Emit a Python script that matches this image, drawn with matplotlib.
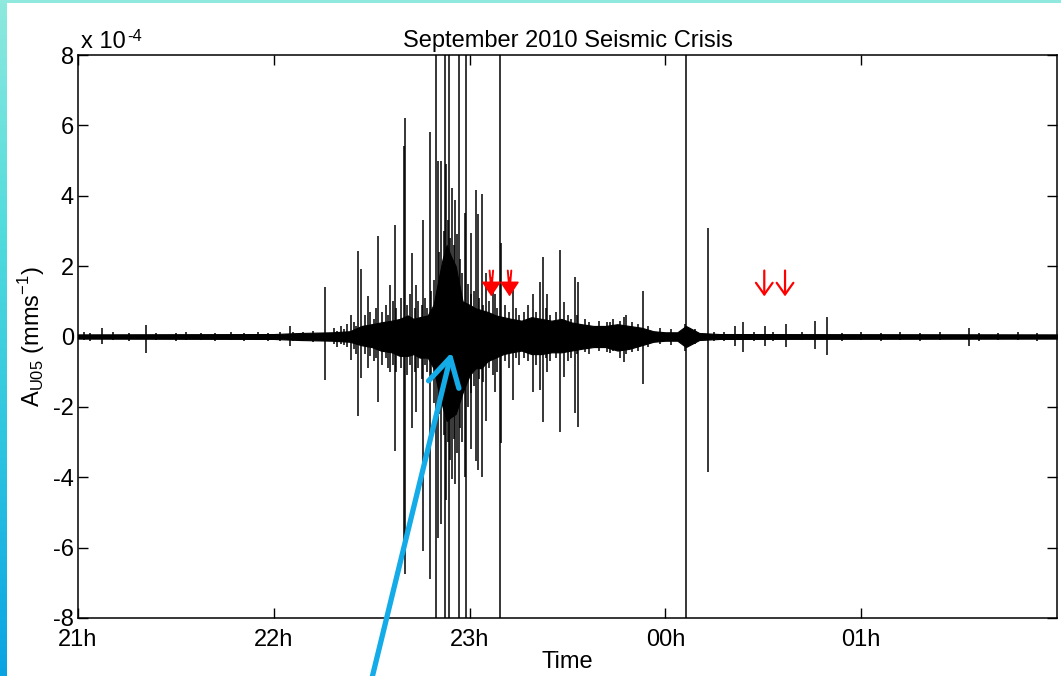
import numpy as np
import matplotlib
matplotlib.use('Agg')
import matplotlib.pyplot as plt
from matplotlib.colors import LinearSegmentedColormap

plt.rcParams['font.family'] = ['Liberation Sans', 'DejaVu Sans']
plt.rcParams['mathtext.fontset'] = 'custom'
plt.rcParams['mathtext.rm'] = 'Liberation Sans'
plt.rcParams['axes.unicode_minus'] = False

# time axis in hours after midnight of the first day (24 = 00h)
tick_pos = [21, 22, 23, 24, 25]
tick_labels = ['21h', '22h', '23h', '00h', '01h']
ytick_pos = [-8, -6, -4, -2, 0, 2, 4, 6, 8]

# background noise envelope (x 1e-4)
env_t = [21.0, 22.0, 22.133, 22.301, 22.388, 22.449, 22.5, 22.546, 22.602,
         22.643, 22.684, 22.714, 22.745, 22.786, 22.816, 22.837, 22.862, 22.883,
         22.903, 22.929, 22.964, 23.0, 23.031, 23.061, 23.092, 23.133, 23.173,
         23.214, 23.265, 23.316, 23.367, 23.418, 23.469, 23.52, 23.571, 23.633,
         23.694, 23.755, 23.816, 23.878, 23.939, 24.0, 24.061, 24.105, 24.173,
         24.276, 26.0]
env_hi = [0.06, 0.07, 0.1, 0.12, 0.15, 0.3, 0.35, 0.4, 0.45,
          0.5, 0.6, 0.5, 0.55, 0.6, 0.9, 1.5, 2.2, 2.6,
          2.3, 2.0, 1.0, 0.9, 0.8, 0.75, 0.7, 0.6, 0.55,
          0.5, 0.45, 0.55, 0.5, 0.45, 0.5, 0.4, 0.35, 0.3,
          0.3, 0.35, 0.3, 0.25, 0.15, 0.12, 0.12, 0.3, 0.1,
          0.07, 0.06]
env_lo = [-0.06, -0.07, -0.1, -0.12, -0.15, -0.25, -0.3, -0.4, -0.45,
          -0.55, -0.55, -0.5, -0.6, -0.6, -0.9, -1.45, -2.0, -2.4,
          -2.3, -2.2, -1.6, -1.1, -0.9, -0.9, -0.7, -0.6, -0.5,
          -0.45, -0.4, -0.5, -0.5, -0.45, -0.45, -0.4, -0.35, -0.3,
          -0.3, -0.4, -0.35, -0.25, -0.15, -0.12, -0.12, -0.3, -0.1,
          -0.07, -0.06]

# individual events (peak / trough, x 1e-4)
spike_t = [21.121, 21.347, 22.082, 22.26, 22.396, 22.432, 22.447, 22.481, 22.531,
           22.592, 22.617, 22.663, 22.67, 22.704, 22.728, 22.762, 22.796, 22.838,
           22.855, 22.881, 22.912, 22.925, 22.974, 23.009, 23.031, 23.042, 23.063,
           23.085, 23.119, 23.128, 23.162, 23.221, 23.323, 23.36, 23.374, 23.396,
           23.464, 23.481, 23.539, 23.556, 23.719, 23.787, 23.884, 24.216, 24.355,
           24.398, 24.509, 24.616, 24.765, 24.823, 25.551]
spike_hi = [0.23, 0.34, 0.31, 1.42, 0.62, 2.44, 1.93, 1.16, 2.87,
            1.45, 3.17, 5.4, 6.22, 2.37, 1.45, 3.3, 5.82, 4.98,
            4.98, 4.9, 4.23, 3.87, 3.52, 2.95, 4.17, 3.47, 4.05,
            1.8, 1.33, 1.2, 2.66, 1.33, 1.21, 1.54, 2.27, 1.2,
            2.47, 0.97, 1.7, 1.56, 0.41, 0.55, 1.28, 3.07, 0.31,
            0.41, 0.31, 0.36, 0.45, 0.54, 0.25]
spike_lo = [-0.2, -0.48, -0.28, -1.25, -0.68, -2.25, -1.17, -0.9, -1.85,
            -1.0, -3.24, -6.28, -6.76, -2.6, -2.15, -6.1, -6.9, -5.74,
            -5.34, -4.65, -4.06, -4.18, -4.0, -3.2, -3.55, -3.78, -3.98,
            -2.4, -1.1, -1.57, -3.02, -1.8, -1.57, -1.53, -2.44, -1.0,
            -2.7, -1.16, -2.17, -2.56, -0.48, -0.73, -1.34, -3.84, -0.26,
            -0.45, -0.28, -0.3, -0.36, -0.52, -0.27]

# smaller wiggles of the trace
small_t = [21.03, 21.06, 21.18, 21.26, 21.4, 21.5, 21.55, 21.63, 21.7, 21.78,
           21.85, 21.92, 21.97, 22.03, 22.1, 22.15, 22.2,
           22.31, 22.325, 22.345, 22.36, 22.375, 22.41, 22.42, 22.465, 22.49,
           22.51, 22.52, 22.555, 22.575, 22.585, 22.61, 22.625, 22.65, 22.68,
           22.695, 22.72, 22.735, 22.755, 22.77, 22.78, 22.805, 22.82, 22.845,
           22.87, 22.89, 22.9, 22.918, 22.935, 22.95, 22.96, 22.99, 23.005,
           23.02, 23.05, 23.07, 23.1, 23.14, 23.18, 23.2, 23.235, 23.25,
           23.28, 23.3, 23.34, 23.39, 23.41, 23.44, 23.5, 23.52, 23.55,
           23.59, 23.61, 23.66, 23.7, 23.73, 23.77, 23.8, 23.83, 23.86,
           23.91, 23.97, 24.03, 24.1, 24.15,
           24.25, 24.3, 24.45, 24.55, 24.7, 24.9, 25.0, 25.1, 25.2, 25.3,
           25.4, 25.6, 25.7, 25.8, 25.9]
small_hi = [0.12, 0.1, 0.12, 0.1, 0.11, 0.1, 0.12, 0.1, 0.11, 0.12,
            0.1, 0.12, 0.11, 0.13, 0.12, 0.14, 0.15,
            0.25, 0.15, 0.3, 0.2, 0.35, 0.4, 0.3, 0.6, 0.7,
            0.5, 0.8, 0.7, 0.9, 0.6, 1.0, 0.8, 1.1, 0.9,
            1.2, 0.8, 1.0, 0.9, 1.1, 0.8, 1.3, 1.6, 2.4,
            3.0, 3.3, 2.8, 2.6, 2.9, 2.2, 1.8, 1.5, 1.2,
            1.3, 1.1, 0.9, 1.0, 0.8, 0.9, 0.7, 0.8, 0.6,
            0.7, 0.9, 0.7, 0.8, 0.6, 0.7, 0.6, 0.5, 0.6,
            0.5, 0.4, 0.45, 0.4, 0.5, 0.45, 0.6, 0.4, 0.35,
            0.3, 0.25, 0.2, 0.35, 0.2,
            0.12, 0.14, 0.12, 0.13, 0.12, 0.11, 0.12, 0.1, 0.12, 0.11,
            0.12, 0.1, 0.11, 0.12, 0.1]
small_lo = [-0.1, -0.12, -0.1, -0.12, -0.1, -0.12, -0.1, -0.11, -0.12, -0.1,
            -0.12, -0.1, -0.12, -0.12, -0.13, -0.12, -0.15,
            -0.2, -0.3, -0.2, -0.25, -0.3, -0.35, -0.5, -0.5, -0.55,
            -0.7, -0.6, -0.8, -0.6, -0.9, -0.8, -1.0, -0.9, -1.1,
            -0.8, -1.0, -0.9, -1.2, -0.8, -1.0, -1.2, -1.9, -2.2,
            -2.8, -3.0, -3.5, -2.9, -3.3, -2.6, -3.0, -2.0, -1.6,
            -1.4, -1.2, -1.3, -0.9, -1.0, -0.7, -0.9, -0.6, -0.8,
            -0.6, -0.7, -0.8, -0.6, -0.7, -0.6, -0.7, -0.6, -0.5,
            -0.45, -0.5, -0.4, -0.45, -0.4, -0.6, -0.5, -0.45, -0.4,
            -0.3, -0.2, -0.25, -0.4, -0.2,
            -0.12, -0.12, -0.13, -0.12, -0.11, -0.12, -0.1, -0.12, -0.1, -0.12,
            -0.11, -0.12, -0.1, -0.11, -0.12]

# saturated events running off the scale
clip_t = [22.827, 22.875, 22.893, 22.945, 22.98, 23.153, 24.107]
clip_hi = [10, 10, 10, 10, 10, 10, 10]
clip_lo = [-10, -10, -10, -10, -10, -10, -10]

# red marker arrows
double_arrow_t = [23.111, 23.204]
single_arrow_t = [24.505, 24.611]
arrow_top = 1.875
arrow_tip = 1.14

fig = plt.figure(figsize=(10.61, 6.76), dpi=100)
fig.patch.set_facecolor('white')

# decorative border strips
strip = fig.add_axes([0, 0, 7 / 1061, 1])
cmap = LinearSegmentedColormap.from_list('strip', ['#8ee9de', '#52dcdc', '#2cc4e0', '#0aa3e3'])
strip.imshow(np.linspace(0, 1, 256).reshape(-1, 1), aspect='auto', cmap=cmap)
strip.axis('off')
top = fig.add_axes([0, 1 - 3 / 676, 1, 3 / 676])
top.set_facecolor('#8fe9df')
top.set_xticks([])
top.set_yticks([])
for s in top.spines.values():
    s.set_visible(False)

ax = fig.add_axes([78 / 1061, 1 - 618 / 676, (1057 - 78) / 1061, (618 - 55) / 676])
ax.fill_between(env_t, env_lo, env_hi, color='black', lw=0.8)
ax.vlines(small_t, small_lo, small_hi, color='black', lw=1.1)
ax.vlines(spike_t, spike_lo, spike_hi, color='black', lw=1.1)
ax.vlines(clip_t, clip_lo, clip_hi, color='black', lw=1.1)

for t in double_arrow_t:
    for dt in (-0.009, 0.009):
        ax.annotate('', xy=(t, arrow_tip + 0.15), xytext=(t + dt, arrow_top),
                    arrowprops=dict(arrowstyle='-', color='red', lw=1.4,
                                    shrinkA=0, shrinkB=0))
    ax.annotate('', xy=(t, arrow_tip), xytext=(t, arrow_top - 0.2),
                arrowprops=dict(arrowstyle='-|>,head_length=0.9,head_width=0.6',
                                color='red', lw=1.2, mutation_scale=10,
                                shrinkA=0, shrinkB=0))
for t in single_arrow_t:
    ax.annotate('', xy=(t, arrow_tip), xytext=(t, arrow_top),
                arrowprops=dict(arrowstyle='->,head_length=0.7,head_width=0.5',
                                color='red', lw=1.6, mutation_scale=12,
                                shrinkA=0, shrinkB=0))

ax.set_xlim(21, 26)
ax.set_ylim(-8, 8)
ax.set_xticks(tick_pos)
ax.set_xticklabels(tick_labels)
ax.set_yticks(ytick_pos)
ax.set_yticklabels([str(v) for v in ytick_pos])
ax.tick_params(direction='in', length=7, width=1, labelsize=17,
               top=True, right=True, pad=3)
ax.tick_params(axis='x', pad=8)
for s in ax.spines.values():
    s.set_linewidth(1.1)

ax.set_title('September 2010 Seismic Crisis', fontsize=17, pad=6)
ax.set_xlabel('Time', fontsize=17, labelpad=0)
ax.set_ylabel(r'A$_{\mathregular{U05}}$ (mms$^{\mathregular{-1}}$)', fontsize=17, labelpad=4)
mult = ax.text(0.003, 1.003, 'x 10', transform=ax.transAxes,
               fontsize=17, ha='left', va='bottom')
ax.annotate('-4', xy=(1, 1), xycoords=mult, xytext=(1, 2),
            textcoords='offset points', fontsize=12, ha='left', va='top')

ax.annotate('', xy=(22.908, -0.45), xycoords='data',
            xytext=(0.3495, -0.01), textcoords='figure fraction',
            arrowprops=dict(arrowstyle='->,head_length=0.8,head_width=0.45',
                            color='#14ace8', lw=3.8, mutation_scale=25,
                            shrinkA=0, shrinkB=0),
            annotation_clip=False, zorder=10)

fig.savefig('out.png', dpi=100)
